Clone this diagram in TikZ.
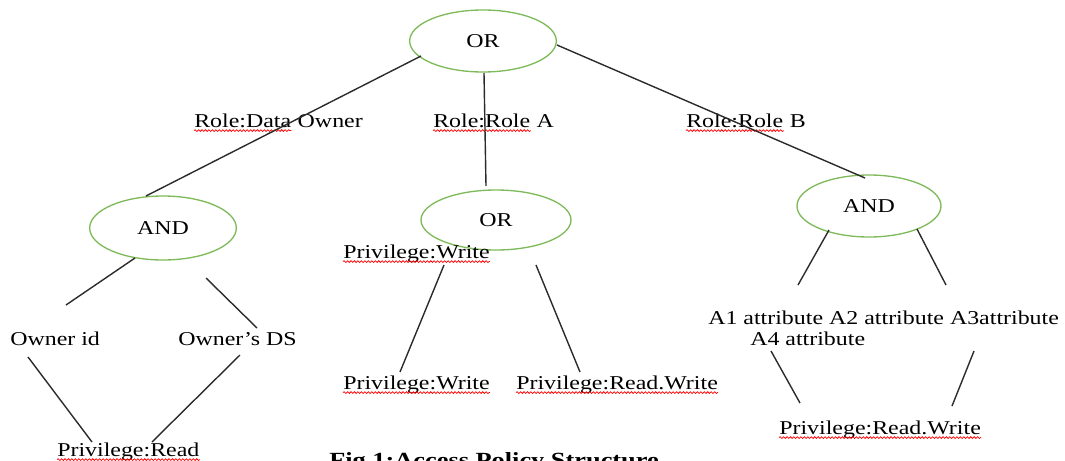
\documentclass[tikz,border=0pt]{standalone}
\usepackage{fontspec}
\setmainfont{Liberation Serif}[FakeStretch=1.22]
\usetikzlibrary{shapes.geometric,decorations.pathmorphing}
\definecolor{ellgreen}{HTML}{7FBA5A}
\definecolor{linegray}{HTML}{2B2B2B}
\tikzset{
  ell/.style={ellipse, draw=ellgreen, line width=1pt, inner sep=0pt},
  lbl/.style={anchor=base west, inner sep=0pt, font=\fontsize{14.7}{17}\selectfont},
  conn/.style={draw=linegray, line width=1.05pt},
  squig/.style={draw=red, line width=0.55pt, decorate, decoration={snake, amplitude=0.65pt, segment length=2.6pt}},
}
\newcommand\squnder[1]{\draw[squig] ([yshift=-2.7pt]#1.base west) -- ([yshift=-2.7pt]#1.base east);}
\begin{document}
\begin{tikzpicture}[x=0.75pt, y=-0.75pt, every node/.style={font=\fontsize{14.7}{17}\selectfont}]
\useasboundingbox (0,0) rectangle (1065,461);
\clip (0,0) rectangle (1065,461);
% ellipses
\node[ell, minimum width=110pt, minimum height=46.5pt] (or1) at (483,41) {OR};
\node[ell, minimum width=110pt, minimum height=48pt] (and1) at (163,228) {AND};
\node[ell, minimum width=112.5pt, minimum height=45pt] (or2) at (496,220) {OR};
\node[ell, minimum width=108pt, minimum height=46.5pt] (and2) at (869,206) {AND};
% labels
\node[lbl] (rdo) at (194,127) {Role:Data};
\node[lbl] (rdo2) at (rdo.base east) {\ Owner};
\node[lbl] (rra) at (433,127) {Role:Role};
\node[lbl] (rra2) at (rra.base east) {\ A};
\node[lbl] (rrb) at (686,127) {Role:Role};
\node[lbl] (rrb2) at (rrb.base east) {\ B};
\node[lbl] (pw1) at (343,258) {Privilege:Write};
\node[lbl] (oid) at (10,345) {Owner id};
\node[lbl] (ods) at (178,345) {Owner’s DS};
\node[lbl] (prd) at (57,456) {Privilege:Read};
\node[lbl] (pw2) at (343,389) {Privilege:Write};
\node[lbl] (prw1) at (516,389) {Privilege:Read.Write};
\node[lbl] (a13) at (708,324) {A1 attribute A2 attribute A3attribute};
\node[lbl] (a4) at (750,345) {A4 attribute};
\node[lbl] (prw2) at (779,434) {Privilege:Read.Write};
\node[lbl, font=\fontsize{16.2}{19}\selectfont\bfseries] (cap) at (329,467) {Fig.1:Access Policy Structure};
% spell-check squiggles
\foreach \n in {rdo,rra,rrb,pw1,prd,pw2,prw1,prw2} {\squnder{\n}}
% connector end points
\coordinate (c1a) at (421,56);  \coordinate (c1b) at (146,196);
\coordinate (c2a) at (484,73);  \coordinate (c2b) at (486,186);
\coordinate (c3a) at (557,45);  \coordinate (c3b) at (865,178);
\coordinate (c4a) at (135,258); \coordinate (c4b) at (66,305);
\coordinate (c5a) at (206,278); \coordinate (c5b) at (257,328);
\coordinate (c6a) at (28,357);  \coordinate (c6b) at (92,442);
\coordinate (c7a) at (240,355); \coordinate (c7b) at (152,442);
\coordinate (c8a) at (444,265); \coordinate (c8b) at (400,372);
\coordinate (c9a) at (536,265); \coordinate (c9b) at (580,372);
\coordinate (c10a) at (829,230); \coordinate (c10b) at (798,285);
\coordinate (c11a) at (917,229); \coordinate (c11b) at (946,285);
\coordinate (c12a) at (771,351); \coordinate (c12b) at (800,403);
\coordinate (c13a) at (974,351); \coordinate (c13b) at (952,406);
\foreach \i in {1,...,13} \draw[conn] (c\i a) -- (c\i b);
\end{tikzpicture}
\end{document}
